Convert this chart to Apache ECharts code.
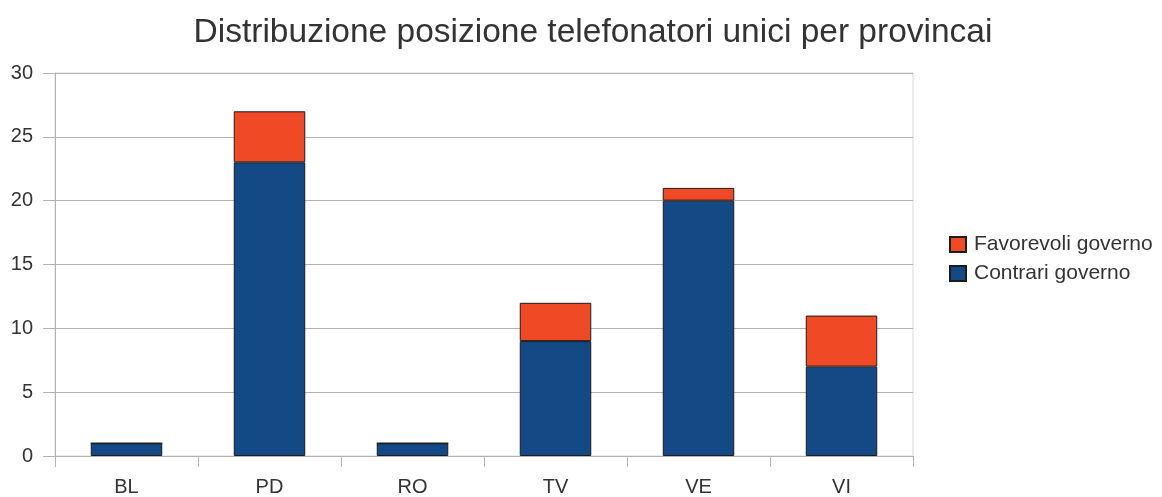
<!DOCTYPE html>
<html>
<head>
<meta charset="utf-8">
<script src="https://cdn.jsdelivr.net/npm/echarts@6/dist/echarts.min.js"></script>
<style>
  html, body { margin: 0; padding: 0; background: #fff; }
  #chart { width: 1162px; height: 497px; }
</style>
</head>
<body>
<div id="chart"></div>
<script>
// Province codes and the number of unique callers per stance
const province = ['BL', 'PD', 'RO', 'TV', 'VE', 'VI'];
const contrari = [1, 23, 1, 9, 20, 7];
const favorevoli = [0, 4, 0, 3, 1, 4];
const yTicks = { min: 0, max: 30, interval: 5 };

const font = 'Liberation Sans, Arial, sans-serif';
const chart = echarts.init(document.getElementById('chart'));

chart.setOption({
  animation: false,
  title: {
    text: 'Distribuzione posizione telefonatori unici per provincai',
    left: 588,
    textAlign: 'center',
    top: 11,
    textStyle: { fontFamily: font, fontSize: 33.5, fontWeight: 'normal', color: '#333' }
  },
  legend: {
    orient: 'vertical',
    left: 944,
    top: 229,
    icon: 'rect',
    itemWidth: 16,
    itemHeight: 15,
    itemGap: 8,
    data: ['Favorevoli governo', 'Contrari governo'],
    textStyle: { fontFamily: font, fontSize: 21, color: '#333', padding: [0, 0, 0, 3] }
  },
  grid: {
    left: 55, right: 249, top: 73, bottom: 38,
    show: true, borderColor: '#d9d9d9', borderWidth: 1
  },
  xAxis: {
    type: 'category',
    data: province,
    boundaryGap: true,
    axisLine: { lineStyle: { color: '#b3b3b3' } },
    axisTick: { show: true, length: 11, lineStyle: { color: '#b3b3b3' } },
    axisLabel: { fontFamily: font, fontSize: 20, color: '#333', margin: 21 }
  },
  yAxis: {
    type: 'value',
    min: yTicks.min, max: yTicks.max, interval: yTicks.interval,
    axisLine: { show: true, lineStyle: { color: '#b3b3b3' } },
    axisTick: { show: true, length: 12, lineStyle: { color: '#b3b3b3' } },
    splitLine: { lineStyle: { color: '#b3b3b3' } },
    axisLabel: { fontFamily: font, fontSize: 20, color: '#333', margin: 22 }
  },
  series: [
    {
      name: 'Contrari governo',
      type: 'bar',
      stack: 'tot',
      barWidth: '50%',
      data: contrari,
      itemStyle: { color: '#134a85', borderColor: '#1c1c1c', borderWidth: 1 }
    },
    {
      name: 'Favorevoli governo',
      type: 'bar',
      stack: 'tot',
      barWidth: '50%',
      data: favorevoli,
      itemStyle: { color: '#f04925', borderColor: '#1c1c1c', borderWidth: 1 }
    }
  ]
});
</script>
</body>
</html>
